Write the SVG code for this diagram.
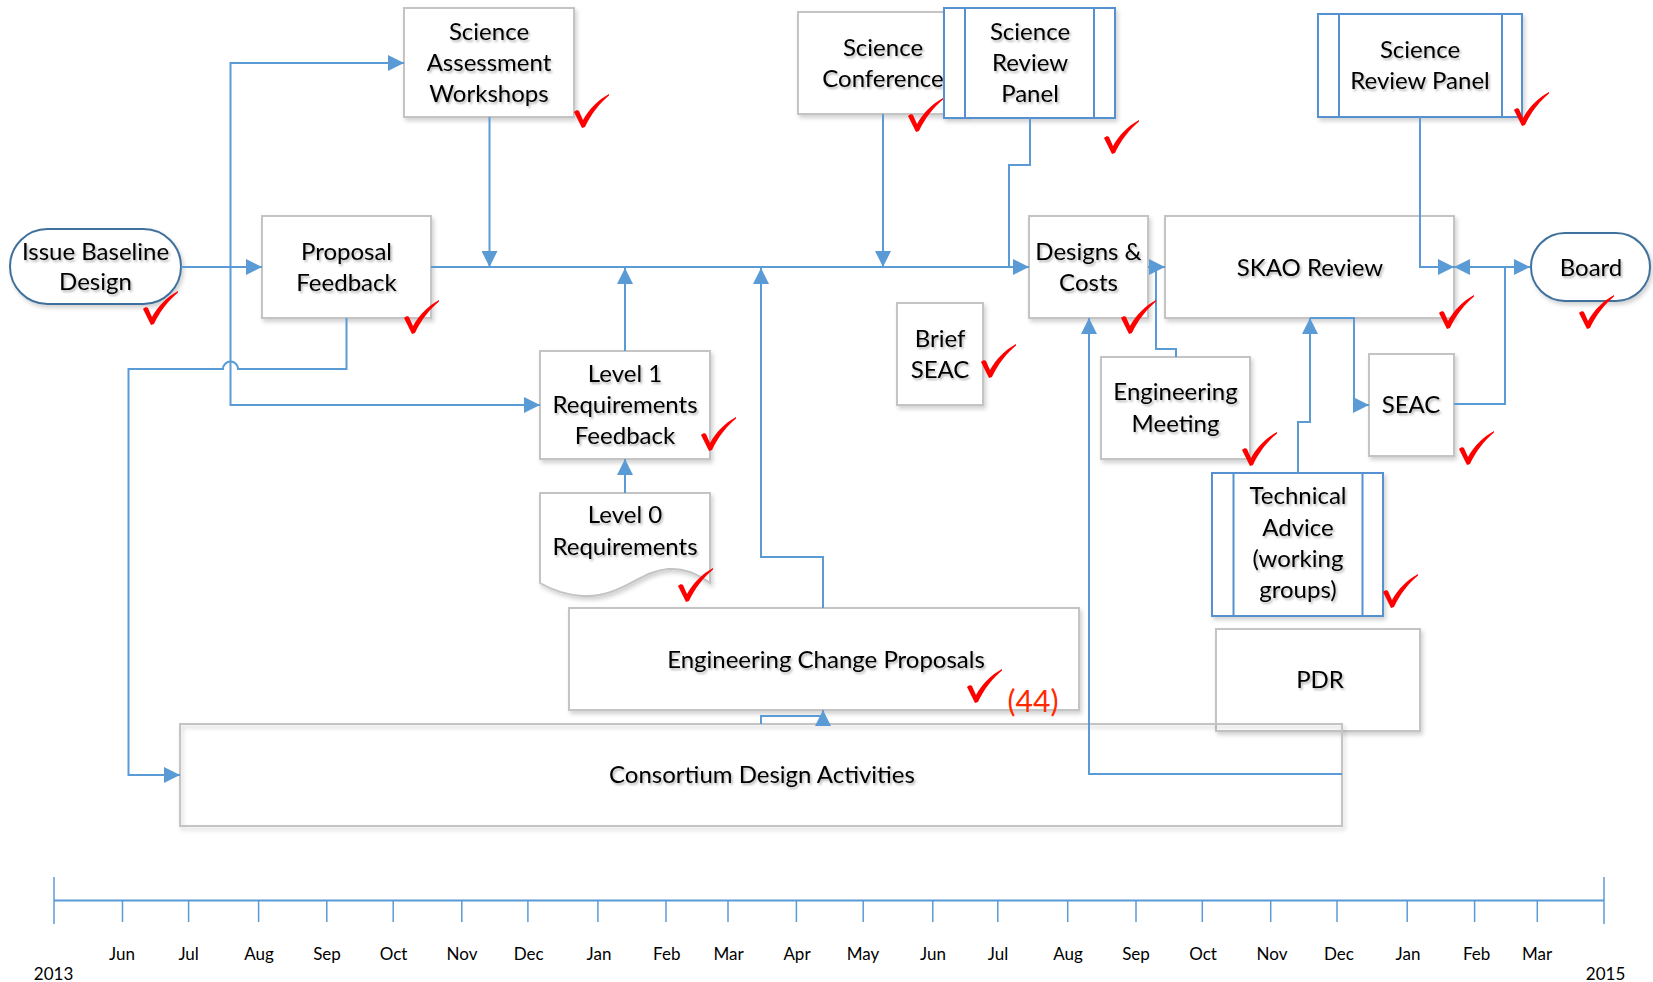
<svg xmlns="http://www.w3.org/2000/svg" width="1653" height="982" viewBox="0 0 1653 982">
<style>
.box{fill:#fff;stroke:#c4c4c4;stroke-width:2;filter:url(#sh)}
.term{fill:#fff;stroke:#41719c;stroke-width:2;filter:url(#sh)}
.sub{fill:#fff;stroke:#5591d0;stroke-width:2;filter:url(#sh)}
.subl{stroke:#5591d0;stroke-width:2}
.t{font-family:Lato,"Open Sans",sans-serif;font-size:24px;fill:#000;text-anchor:middle;filter:url(#tsh)}
.m{font-family:Lato,"Open Sans",sans-serif;font-size:17px;fill:#000;text-anchor:middle}
.c{fill:none;stroke:#5b9bd5;stroke-width:2}
.ca{fill:none;stroke:#5b9bd5;stroke-width:2;marker-end:url(#ar)}
.tick{stroke:#5b9bd5;stroke-width:1.5}
.chk{fill:#ff0000}
</style>
<defs>
<marker id="ar" markerUnits="userSpaceOnUse" markerWidth="16" markerHeight="16" refX="16" refY="8" orient="auto"><path d="M0,0 L16,8 L0,16 Z" fill="#5b9bd5"/></marker>
<filter id="sh" x="-10%" y="-10%" width="130%" height="140%"><feDropShadow dx="2" dy="3" stdDeviation="2" flood-color="#000" flood-opacity="0.18"/></filter>
<filter id="tsh" x="-10%" y="-20%" width="120%" height="160%"><feDropShadow dx="1.5" dy="2" stdDeviation="1" flood-color="#000" flood-opacity="0.3"/></filter>
<path id="ck" d="M1,18 C3,16 5,16 6,17 L10,26 C16,15 25,6 36,0 L36,1.5 C27,9 18,20 12,33 L9,34 Z"/>
</defs>

<g id="issue-baseline-design">
<rect class="term" x="10" y="229" width="171" height="75" rx="37.5"/>
<text class="t" x="95.5" y="260">Issue Baseline</text>
<text class="t" x="95.5" y="290">Design</text>
</g>
<g id="proposal-feedback">
<rect class="box" x="262" y="216" width="169" height="102"/>
<text class="t" x="346.5" y="260">Proposal</text>
<text class="t" x="346.5" y="291">Feedback</text>
</g>
<g id="science-assessment-workshops">
<rect class="box" x="404" y="8" width="170" height="109"/>
<text class="t" x="489" y="40">Science</text>
<text class="t" x="489" y="71">Assessment</text>
<text class="t" x="489" y="102">Workshops</text>
</g>
<g id="science-conference">
<rect class="box" x="798" y="12" width="170" height="102"/>
<text class="t" x="883" y="56">Science</text>
<text class="t" x="883" y="87">Conference</text>
</g>
<g id="science-review-panel-1">
<rect class="sub" x="944" y="8" width="171" height="110"/>
<line class="subl" x1="965" y1="8" x2="965" y2="118"/>
<line class="subl" x1="1094" y1="8" x2="1094" y2="118"/>
<text class="t" x="1030" y="40">Science</text>
<text class="t" x="1030" y="71">Review</text>
<text class="t" x="1030" y="102">Panel</text>
</g>
<g id="science-review-panel-2">
<rect class="sub" x="1318" y="14" width="204" height="103"/>
<line class="subl" x1="1339" y1="14" x2="1339" y2="117"/>
<line class="subl" x1="1502" y1="14" x2="1502" y2="117"/>
<text class="t" x="1420" y="58">Science</text>
<text class="t" x="1420" y="89">Review Panel</text>
</g>
<g id="designs-costs">
<rect class="box" x="1029" y="216" width="119" height="102"/>
<text class="t" x="1088.5" y="260">Designs &amp;</text>
<text class="t" x="1088.5" y="291">Costs</text>
</g>
<g id="skao-review">
<rect class="box" x="1165" y="216" width="289" height="102"/>
<text class="t" x="1310" y="276">SKAO Review</text>
</g>
<g id="board">
<rect class="term" x="1531" y="233" width="119" height="68" rx="34"/>
<text class="t" x="1591" y="276">Board</text>
</g>
<g id="brief-seac">
<rect class="box" x="897" y="303" width="86" height="102"/>
<text class="t" x="940" y="347">Brief</text>
<text class="t" x="940" y="378">SEAC</text>
</g>
<g id="engineering-meeting">
<rect class="box" x="1101" y="357" width="149" height="102"/>
<text class="t" x="1175.5" y="400">Engineering</text>
<text class="t" x="1175.5" y="432">Meeting</text>
</g>
<g id="seac">
<rect class="box" x="1369" y="354" width="85" height="102"/>
<text class="t" x="1411" y="413">SEAC</text>
</g>
<g id="level1-requirements-feedback">
<rect class="box" x="540" y="351" width="170" height="108"/>
<text class="t" x="625" y="382">Level 1</text>
<text class="t" x="625" y="413">Requirements</text>
<text class="t" x="625" y="444">Feedback</text>
</g>
<g id="level0-requirements">
<path class="box" d="M540,493 H710 V583 C697,574 685,568 668,569 C640,571 620,598 583,596 C565,595 552,590 540,583 Z"/>
<text class="t" x="625" y="523">Level 0</text>
<text class="t" x="625" y="555">Requirements</text>
</g>
<g id="technical-advice">
<rect class="sub" x="1212" y="473" width="171" height="143"/>
<line class="subl" x1="1233.5" y1="473" x2="1233.5" y2="616"/>
<line class="subl" x1="1362.5" y1="473" x2="1362.5" y2="616"/>
<text class="t" x="1298" y="504">Technical</text>
<text class="t" x="1298" y="536">Advice</text>
<text class="t" x="1298" y="567">(working</text>
<text class="t" x="1298" y="598">groups)</text>
</g>
<g id="engineering-change-proposals">
<rect class="box" x="569" y="608" width="510" height="102"/>
<text class="t" x="826" y="668">Engineering Change Proposals</text>
<text x="1033" y="712" font-family="Lato,'Open Sans',sans-serif" font-size="30" fill="#ff2a00" text-anchor="middle">(44)</text>
</g>
<g id="pdr">
<rect class="box" x="1216" y="629" width="204" height="102"/>
<text class="t" x="1320" y="688">PDR</text>
</g>
<g id="consortium-design-activities">
<rect class="box" x="180" y="724" width="1162" height="102" style="fill:none"/>
<text class="t" x="762" y="783">Consortium Design Activities</text>
</g>

<g id="connectors">
<path class="ca" d="M181,267 H262"/>
<path class="ca" d="M230.5,267 V63 H404"/>
<path class="ca" d="M230.5,267 V405 H540"/>
<path class="ca" d="M489.5,117 V267"/>
<path class="ca" d="M431,267 H1029"/>
<path class="ca" d="M883,114 V267"/>
<path class="c" d="M1030,118 V165 H1009 V267"/>
<path class="ca" d="M625,351 V268"/>
<path class="ca" d="M625,493 V459"/>
<path class="ca" d="M823,608 V557 H761 V268"/>
<path class="ca" d="M761,724 V716 H823 V710"/>
<path class="ca" d="M346.5,318 V369 H238 A7.5,7.5 0 0 0 223,369 H128.5 V775 H180"/>
<path class="ca" d="M1342,774 H1089 V318"/>
<path class="ca" d="M1148,267 H1165"/>
<path class="c" d="M1156,267 V349 H1176 V357"/>
<path class="ca" d="M1420,117 V267 H1454"/>
<path class="c" d="M1454,404 H1505 V267"/>
<path class="ca" d="M1505,267 H1454"/>
<path class="ca" d="M1505,267 H1530"/>
<path class="ca" d="M1310,318 H1354 V405 H1369"/>
<path class="ca" d="M1298,473 V422 H1310 V318"/>
</g>

<g id="checks" class="chk">
<use href="#ck" x="142" y="291"/>
<use href="#ck" x="403" y="300"/>
<use href="#ck" x="573" y="94"/>
<use href="#ck" x="907" y="98"/>
<use href="#ck" x="1103" y="120"/>
<use href="#ck" x="1513" y="92"/>
<use href="#ck" x="1120" y="300"/>
<use href="#ck" x="1438" y="295"/>
<use href="#ck" x="1578" y="295"/>
<use href="#ck" x="700" y="417"/>
<use href="#ck" x="677" y="568"/>
<use href="#ck" x="980" y="344"/>
<use href="#ck" x="1241" y="432"/>
<use href="#ck" x="1458" y="431"/>
<use href="#ck" x="1382" y="574"/>
<use href="#ck" x="966" y="669"/>
</g>

<g id="timeline">
<line x1="54" y1="900.5" x2="1604" y2="900.5" stroke="#5b9bd5" stroke-width="2"/>
<line class="tick" x1="54" y1="877" x2="54" y2="924"/>
<line class="tick" x1="1604" y1="877" x2="1604" y2="924"/>
<line class="tick" x1="122.5" y1="900" x2="122.5" y2="922"/>
<line class="tick" x1="188.6" y1="900" x2="188.6" y2="922"/>
<line class="tick" x1="258.6" y1="900" x2="258.6" y2="922"/>
<line class="tick" x1="326.8" y1="900" x2="326.8" y2="922"/>
<line class="tick" x1="393.2" y1="900" x2="393.2" y2="922"/>
<line class="tick" x1="461.8" y1="900" x2="461.8" y2="922"/>
<line class="tick" x1="527.9" y1="900" x2="527.9" y2="922"/>
<line class="tick" x1="597.9" y1="900" x2="597.9" y2="922"/>
<line class="tick" x1="666" y1="900" x2="666" y2="922"/>
<line class="tick" x1="728" y1="900" x2="728" y2="922"/>
<line class="tick" x1="796.4" y1="900" x2="796.4" y2="922"/>
<line class="tick" x1="863.2" y1="900" x2="863.2" y2="922"/>
<line class="tick" x1="932.8" y1="900" x2="932.8" y2="922"/>
<line class="tick" x1="997.8" y1="900" x2="997.8" y2="922"/>
<line class="tick" x1="1067.7" y1="900" x2="1067.7" y2="922"/>
<line class="tick" x1="1136" y1="900" x2="1136" y2="922"/>
<line class="tick" x1="1202.3" y1="900" x2="1202.3" y2="922"/>
<line class="tick" x1="1270.7" y1="900" x2="1270.7" y2="922"/>
<line class="tick" x1="1337" y1="900" x2="1337" y2="922"/>
<line class="tick" x1="1407.2" y1="900" x2="1407.2" y2="922"/>
<line class="tick" x1="1474.6" y1="900" x2="1474.6" y2="922"/>
<line class="tick" x1="1537.3" y1="900" x2="1537.3" y2="922"/>
<text class="m" x="122" y="960">Jun</text>
<text class="m" x="188.6" y="960">Jul</text>
<text class="m" x="259" y="960">Aug</text>
<text class="m" x="327" y="960">Sep</text>
<text class="m" x="393.5" y="960">Oct</text>
<text class="m" x="462" y="960">Nov</text>
<text class="m" x="528.6" y="960">Dec</text>
<text class="m" x="599" y="960">Jan</text>
<text class="m" x="666.8" y="960">Feb</text>
<text class="m" x="728.5" y="960">Mar</text>
<text class="m" x="797" y="960">Apr</text>
<text class="m" x="863" y="960">May</text>
<text class="m" x="933" y="960">Jun</text>
<text class="m" x="998" y="960">Jul</text>
<text class="m" x="1068" y="960">Aug</text>
<text class="m" x="1136" y="960">Sep</text>
<text class="m" x="1203" y="960">Oct</text>
<text class="m" x="1272" y="960">Nov</text>
<text class="m" x="1339" y="960">Dec</text>
<text class="m" x="1408" y="960">Jan</text>
<text class="m" x="1476.7" y="960">Feb</text>
<text class="m" x="1537" y="960">Mar</text>
<text class="m" x="53.6" y="980">2013</text>
<text class="m" x="1605.6" y="980">2015</text>
</g>
</svg>
